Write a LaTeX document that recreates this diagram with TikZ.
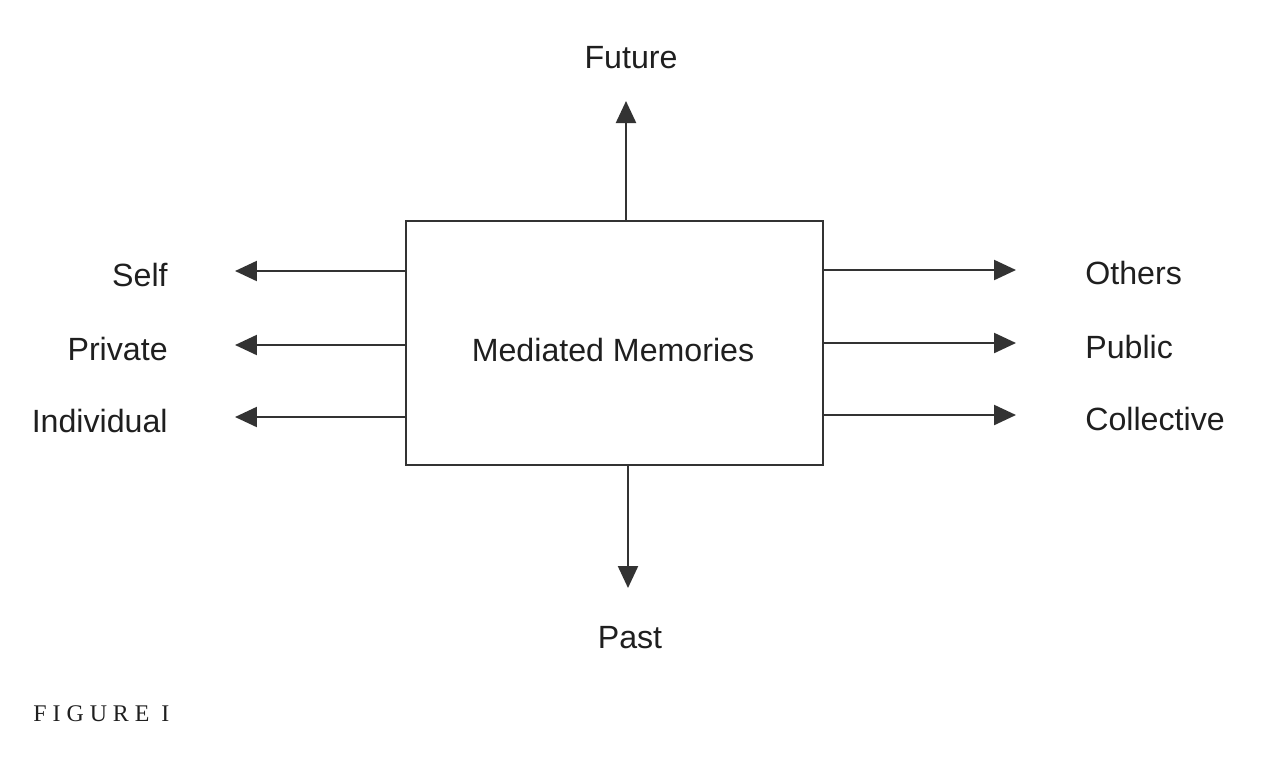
\documentclass[tikz,border=0pt]{standalone}
\usepackage{fontspec}
\setmainfont{Liberation Sans}
\newfontfamily\figfont[LetterSpace=25]{Liberation Serif}
\usetikzlibrary{arrows.meta}
\definecolor{ink}{HTML}{333333}
\tikzset{
  lbl/.style={inner sep=0pt, font=\fontsize{18.3}{22}\selectfont, text=black!88},
  conn/.style={draw=ink, line width=1.3pt, -{Triangle[length=0.44cm,width=0.4cm]}},
  mainbox/.style={draw=ink, line width=1.3pt, minimum width=8.34cm, minimum height=4.88cm, inner sep=0pt}
}
\begin{document}
\begin{tikzpicture}[x=0.02cm,y=-0.02cm]
\useasboundingbox (0,0) rectangle (1274,758);
\node[mainbox] (box) at (614.5,343) {};
\node[lbl, anchor=base] (mm) at (613,361) {Mediated Memories};
% free ends
\coordinate (tU) at (626,101);
\coordinate (tD) at (628,588);
\coordinate (tL1) at (235,271);
\coordinate (tL2) at (235,345);
\coordinate (tL3) at (235,417);
\coordinate (tR1) at (1016,270);
\coordinate (tR2) at (1016,343);
\coordinate (tR3) at (1016,415);
\draw[conn] (box.north -| tU) -- (tU);
\draw[conn] (box.south -| tD) -- (tD);
\draw[conn] (box.west |- tL1) -- (tL1);
\draw[conn] (box.west |- tL2) -- (tL2);
\draw[conn] (box.west |- tL3) -- (tL3);
\draw[conn] (box.east |- tR1) -- (tR1);
\draw[conn] (box.east |- tR2) -- (tR2);
\draw[conn] (box.east |- tR3) -- (tR3);
% labels
\node[lbl, anchor=base] (future) at (631,68) {Future};
\node[lbl, anchor=base] (past) at (630,648) {Past};
\node[lbl, anchor=base east] (self) at (168,286) {Self};
\node[lbl, anchor=base east] (private) at (168,360) {Private};
\node[lbl, anchor=base east] (individual) at (168,432) {Individual};
\node[lbl, anchor=base west] (others) at (1085,284) {Others};
\node[lbl, anchor=base west] (public) at (1085,358) {Public};
\node[lbl, anchor=base west] (collective) at (1085,430) {Collective};
\node[inner sep=0pt, anchor=base west, font=\figfont\fontsize{13.6}{16}\selectfont, text=black!88] (fig) at (33,721) {FIGURE I};
\end{tikzpicture}
\end{document}
